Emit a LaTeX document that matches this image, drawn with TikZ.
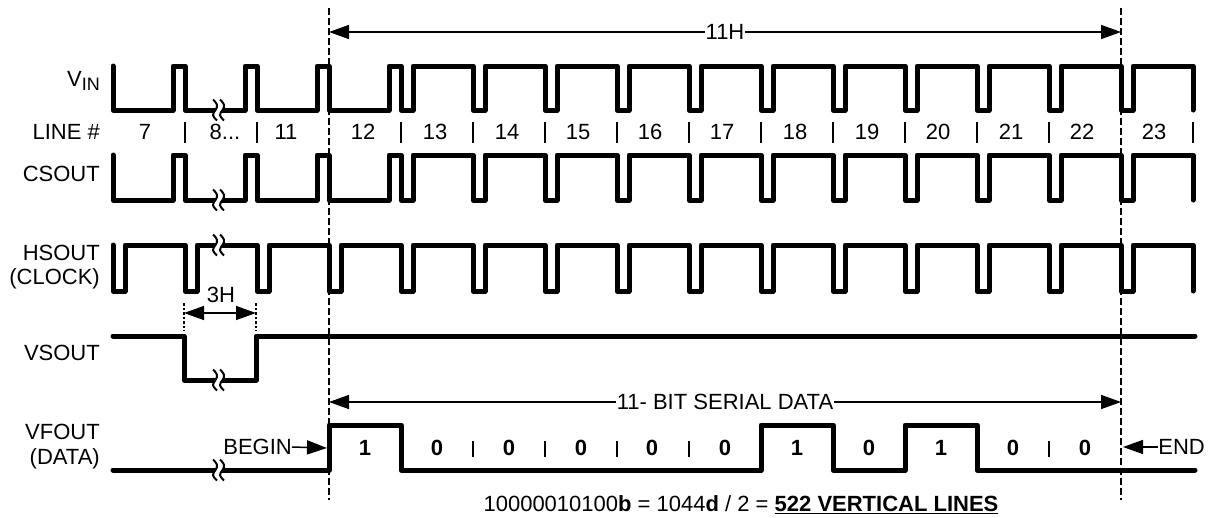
\documentclass[tikz,border=0pt]{standalone}
\usepackage{fontspec}
\setmainfont{Liberation Sans}
\usetikzlibrary{arrows.meta}
\tikzset{
  wave/.style={line width=5pt,line cap=round,line join=round,black},
  guide/.style={line width=2pt,dash pattern=on 6.5pt off 3.5pt,black},
  tick/.style={line width=1.5pt,dash pattern=on 2.5pt off 2pt,black},
  sep/.style={line width=1.2pt,black},
  dim/.style={line width=1.5pt,black,{Triangle[length=20pt,width=14pt]}-{Triangle[length=20pt,width=14pt]}},
  dimr/.style={line width=1.5pt,black,-{Triangle[length=20pt,width=14pt]}},
  lab/.style={font=\fontsize{22}{24}\selectfont,anchor=east,inner sep=0pt,text=black},
  num/.style={font=\fontsize{22}{24}\selectfont,inner sep=0pt,text=black},
  bit/.style={font=\fontsize{22}{24}\selectfont\bfseries,inner sep=0pt,text=black},
  plain/.style={font=\fontsize{22}{24}\selectfont,inner sep=0pt,text=black},
}
\newcommand{\brkcurve}[2]{plot[smooth,tension=0.8] coordinates {(#1-2.5,#2-10.5) (#1+1.5,#2-5) (#1,#2) (#1-2.5,#2+5) (#1+1.5,#2+10.5)}}
\newcommand{\brk}[2]{%
  \draw[white,line width=7pt] \brkcurve{#1}{#2};
  \draw[black,line width=2pt,xshift=-3.5pt] \brkcurve{#1}{#2};
  \draw[black,line width=2pt,xshift=3.5pt] \brkcurve{#1}{#2};
}
\begin{document}
\begin{tikzpicture}[x=1pt,y=-1pt]
\useasboundingbox (0,0) rectangle (1214,517);
% VIN and CSOUT
\foreach \h/\l in {66/110,155/200}{
  \draw[wave] (113,\h) -- (113,\l) -- (173,\l) -- (173,\h) -- (185,\h) -- (185,\l) -- (245,\l) -- (245,\h) -- (257,\h) -- (257,\l)
    -- (317,\l) -- (317,\h) -- (329,\h) -- (329,\l) -- (389,\l) -- (389,\h) -- (401,\h) -- (401,\l) -- (413,\l) -- (413,\h)
    \foreach \x in {473,545,617,689,761,833,905,977,1049,1121}{
      -- (\x,\h) -- (\x,\l) -- (\x+12,\l) -- (\x+12,\h)
    } -- (1193,\h) -- (1193,\l);
}
% HSOUT
\draw[wave] (113,245) -- (113,291) -- (125,291) -- (125,245)
  \foreach \x in {185,257,329,401,473,545,617,689,761,833,905,977,1049,1121}{
    -- (\x,245) -- (\x,291) -- (\x+12,291) -- (\x+12,245)
  } -- (1193,245) -- (1193,291);
% VSOUT
\draw[wave] (113,336) -- (184,336) -- (184,380) -- (256,380) -- (256,336) -- (1195,336);
% VFOUT
\draw[wave] (113,470) -- (329,470) -- (329,425) -- (401,425) -- (401,470) -- (761,470) -- (761,425) -- (833,425) -- (833,470)
  -- (905,470) -- (905,425) -- (977,425) -- (977,470) -- (1195,470);
% breaks
\brk{219}{110}
\brk{219}{200}
\brk{219}{245}
\brk{219}{380}
\brk{219}{470}
% guides
\coordinate (gat) at (328.5,8);
\coordinate (gab) at (328.5,500);
\coordinate (gbt) at (1121,8);
\coordinate (gbb) at (1121,500);
\draw[guide] (gat) -- (gab);
\draw[guide] (gbt) -- (gbb);
% separators, line row
\foreach \x in {185,257,401,473,545,617,689,761,833,905,977,1049,1193}{
  \draw[sep] (\x,122) -- (\x,143);
}
% separators, bit row
\foreach \x in {473,545,617,689,1049}{
  \draw[sep] (\x,441) -- (\x,457);
}
% labels
\node[lab] (vin) at (100,81) {V\raisebox{-0.22em}{\fontsize{18}{20}\selectfont IN}};
\node[lab] (line) at (100,132) {LINE \#};
\node[lab] (csout) at (100,174) {CSOUT};
\node[lab] (hsout) at (100,253) {HSOUT};
\node[lab] (clock) at (100,279) {(CLOCK)};
\node[lab] (vsout) at (100,353) {VSOUT};
\node[lab] (vfout) at (100,432) {VFOUT};
\node[lab] (data) at (100,459) {(DATA)};
% line numbers
\foreach \t/\x in {7/145,11/286,12/363,13/435,14/507,15/578,16/650,17/722,18/795,19/867,20/938,21/1011,22/1082,23/1154}{
  \node[num] (n\x) at (\x,132) {\t};
}
\node[num] (n225) at (225,132) {8...};
% bits
\foreach \t/\x in {1/365,0/437,0/509,0/581,0/652,0/725,1/797,0/869,1/941,0/1013,0/1085}{
  \node[bit] (b\x) at (\x,448) {\t};
}
% 11H
\coordinate (ha) at (329,32);
\coordinate (hb) at (1121,32);
\draw[dim] (ha) -- (hb);
\node[plain,fill=white,inner xsep=1pt] (h11) at (725,32) {11H};
% 3H
\coordinate (ta) at (184,313);
\coordinate (tb) at (256,313);
\draw[tick] (184,303) -- (184,331);
\draw[tick] (256,303) -- (256,331);
\draw[dim] (ta) -- (tb);
\node[plain] (h3) at (221,295) {3H};
% serial
\coordinate (sa) at (329,402);
\coordinate (sb) at (1121,402);
\draw[dim] (sa) -- (sb);
\node[plain,fill=white,inner xsep=1pt] (ser) at (725,402) {11- BIT SERIAL DATA};
% begin / end
\node[plain,anchor=east] (begin) at (292,447) {BEGIN};
\coordinate (bt) at (327,448);
\draw[dimr] (begin.east) -- (bt);
\node[plain,anchor=east] (endl) at (1205,447) {END};
\coordinate (et) at (1123,447);
\draw[dimr] (endl.west) -- (et);
% bottom
\node[plain] (res) at (741,505) {10000010100\textbf{b} = 1044\textbf{d} / 2 = \textbf{\underline{522 VERTICAL LINES}}};
\end{tikzpicture}
\end{document}
